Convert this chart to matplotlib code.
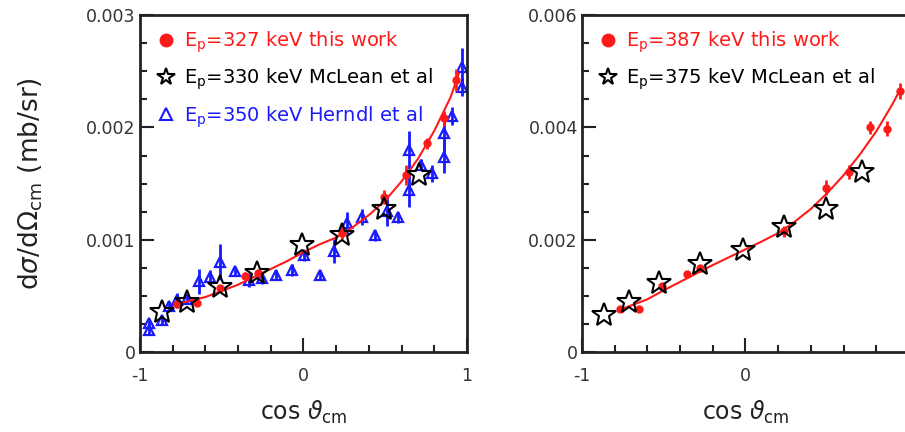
import matplotlib.pyplot as plt
from matplotlib.lines import Line2D
from matplotlib.ticker import MultipleLocator
import numpy as np

# ---- left panel: Ep = 327 keV ----
red_x_l = [-0.776, -0.649, -0.51, -0.357, -0.276, 0.236, 0.49, 0.627, 0.754, 0.858, 0.935]
red_y_l = [0.00043, 0.000436, 0.00057, 0.00068, 0.0007, 0.00106, 0.00138, 0.00158, 0.00186, 0.00208, 0.00242]
red_e_l = [0.00003, 0.00003, 0.00003, 0.00003, 0.00003, 0.00005, 0.00006, 0.00009, 0.00005, 0.00007, 0.0001]

star_x_l = [-0.863, -0.714, -0.51, -0.286, -0.01, 0.235, 0.49, 0.704]
star_y_l = [0.00036, 0.00045, 0.00058, 0.0007, 0.00095, 0.00104, 0.00127, 0.00158]

blue_x = [-0.947, -0.947, -0.866, -0.824, -0.773, -0.712, -0.641, -0.57, -0.512, -0.416,
          -0.335, -0.253, -0.171, -0.073, 0.006, 0.1, 0.184, 0.268, 0.359, 0.435,
          0.51, 0.578, 0.645, 0.645, 0.72, 0.788, 0.859, 0.859, 0.91, 0.972, 0.972]
blue_y = [0.000255, 0.000196, 0.000285, 0.00041, 0.00046, 0.00047, 0.00063, 0.00067, 0.0008, 0.00072,
          0.00064, 0.00066, 0.00069, 0.00073, 0.00086, 0.00069, 0.0009, 0.00115, 0.0012, 0.00104,
          0.00126, 0.0012, 0.0018, 0.00144, 0.00167, 0.00159, 0.00195, 0.00174, 0.0021, 0.00254, 0.00236]
blue_e = [0.00004, 0.00004, 0.00004, 0.00004, 0.00007, 0.00004, 0.00011, 0.00006, 0.00016, 0.00004,
          0.00006, 0.00005, 0.00004, 0.00005, 0.00005, 0.00004, 0.00011, 0.0001, 0.00007, 0.00005,
          0.00014, 0.00005, 0.00017, 0.00015, 0.00005, 0.00008, 0.00015, 0.00015, 0.00008, 0.00017, 0.00008]

fit_x_l = [-0.78, -0.7, -0.6, -0.5, -0.4, -0.3, -0.2, -0.1, 0.0, 0.1, 0.2, 0.3, 0.4, 0.5, 0.6, 0.7, 0.8, 0.9, 0.95]
fit_y_l = [0.00043, 0.000455, 0.00049, 0.000545, 0.0006, 0.00067, 0.00074, 0.00081, 0.00089, 0.00096,
           0.00102, 0.00111, 0.00122, 0.00135, 0.00152, 0.00172, 0.00197, 0.00227, 0.00248]

# ---- right panel: Ep = 387 keV ----
red_x_r = [-0.768, -0.65, -0.512, -0.359, -0.277, 0.236, 0.492, 0.635, 0.762, 0.867, 0.943]
red_y_r = [0.000765, 0.000765, 0.00118, 0.00139, 0.00149, 0.00215, 0.00293, 0.00321, 0.004, 0.00398, 0.00465]
red_e_r = [0.00004, 0.00004, 0.00005, 0.00006, 0.00006, 0.0001, 0.00013, 0.00012, 0.00012, 0.00013, 0.00014]

star_x_r = [-0.865, -0.715, -0.527, -0.281, -0.014, 0.236, 0.492, 0.711]
star_y_r = [0.00066, 0.0009, 0.00123, 0.00157, 0.00182, 0.00222, 0.00254, 0.0032]

fit_x_r = [-0.77, -0.7, -0.6, -0.5, -0.4, -0.3, -0.2, -0.1, 0.0, 0.1, 0.2, 0.3, 0.4, 0.5, 0.6, 0.7, 0.8, 0.9, 0.95]
fit_y_r = [0.00075, 0.00083, 0.00094, 0.0011, 0.00125, 0.0014, 0.00155, 0.00169, 0.00183, 0.00197,
           0.00212, 0.00232, 0.00255, 0.00283, 0.00315, 0.00352, 0.00393, 0.00442, 0.0047]

RED = '#ff1a1a'
BLUE = '#1a1aff'
TICKC = '#333333'

fig = plt.figure(figsize=(9.05, 4.32), dpi=100)
ax1 = fig.add_axes([0.1547, 0.185, 0.3613, 0.78])
ax2 = fig.add_axes([0.6431, 0.185, 0.3613, 0.78])


def style(ax, ymax, ymajor, yminor, xlabels):
    ax.set_xlim(-1, 1)
    ax.set_ylim(0, ymax)
    ax.xaxis.set_major_locator(MultipleLocator(1))
    ax.xaxis.set_minor_locator(MultipleLocator(0.2))
    ax.yaxis.set_major_locator(MultipleLocator(ymajor))
    ax.yaxis.set_minor_locator(MultipleLocator(yminor))
    ax.tick_params(which='both', direction='in', top=False, right=False,
                   width=1.5, labelsize=12.5, labelcolor=TICKC, color='#222222')
    ax.tick_params(which='major', length=10)
    ax.tick_params(which='minor', length=5)
    ax.tick_params(axis='y', which='major', pad=3)
    ax.tick_params(axis='x', which='major', pad=11)
    for s in ax.spines.values():
        s.set_linewidth(2)
        s.set_color('#222222')
    ax.yaxis.set_major_formatter(plt.FuncFormatter(lambda v, p: '0' if v == 0 else f'{v:.3f}'))
    ax.xaxis.set_major_formatter(plt.FuncFormatter(lambda v, p: xlabels.get(round(v), '')))
    ax.set_xlabel(r'cos $\vartheta_{\rm cm}$', fontsize=17, labelpad=10, color='#222222')


style(ax1, 0.003, 0.001, 0.00025, {-1: '-1', 0: '0', 1: '1'})
style(ax2, 0.006, 0.002, 0.0005, {-1: '-1', 0: '0'})
ax1.set_ylabel(r'd$\sigma$/d$\Omega_{\rm cm}$ (mb/sr)', fontsize=19, labelpad=30, color='#222222')

# left panel
ax1.errorbar(blue_x, blue_y, yerr=blue_e, fmt='^', ms=6.5, mfc='none', mec=BLUE, mew=1.6,
             ecolor=BLUE, elinewidth=2, capsize=0, zorder=2)
ax1.plot(fit_x_l, fit_y_l, color=RED, lw=1.5, zorder=3)
ax1.errorbar(red_x_l, red_y_l, yerr=red_e_l, fmt='o', ms=5, color=RED, elinewidth=2, capsize=0, zorder=4)
ax1.plot(star_x_l, star_y_l, '*', ms=18, mfc='none', mec='black', mew=1.5, zorder=5)

# right panel
ax2.plot(fit_x_r, fit_y_r, color=RED, lw=1.5, zorder=3)
ax2.errorbar(red_x_r, red_y_r, yerr=red_e_r, fmt='o', ms=5, color=RED, elinewidth=2, capsize=0, zorder=4)
ax2.plot(star_x_r, star_y_r, '*', ms=18, mfc='none', mec='black', mew=1.5, zorder=5)

h_red = Line2D([], [], ls='none', marker='o', ms=9, color=RED)
h_star = Line2D([], [], ls='none', marker='*', ms=13, mfc='none', mec='black', mew=1.5)
h_tri = Line2D([], [], ls='none', marker='^', ms=9, mfc='none', mec=BLUE, mew=1.5)

leg1 = ax1.legend([h_red, h_star, h_tri],
                  [r'E$_{\rm p}$=327 keV this work', r'E$_{\rm p}$=330 keV McLean et al',
                   r'E$_{\rm p}$=350 keV Herndl et al'],
                  loc='upper left', frameon=False, fontsize=14, labelspacing=0.6,
                  handletextpad=0.3, handlelength=1.2, borderaxespad=0.35,
                  labelcolor=[RED, 'black', BLUE])
leg2 = ax2.legend([h_red, h_star],
                  [r'E$_{\rm p}$=387 keV this work', r'E$_{\rm p}$=375 keV McLean et al'],
                  loc='upper left', frameon=False, fontsize=14, labelspacing=0.6,
                  handletextpad=0.3, handlelength=1.2, borderaxespad=0.35,
                  labelcolor=[RED, 'black'])

fig.savefig('out.png', dpi=100)
